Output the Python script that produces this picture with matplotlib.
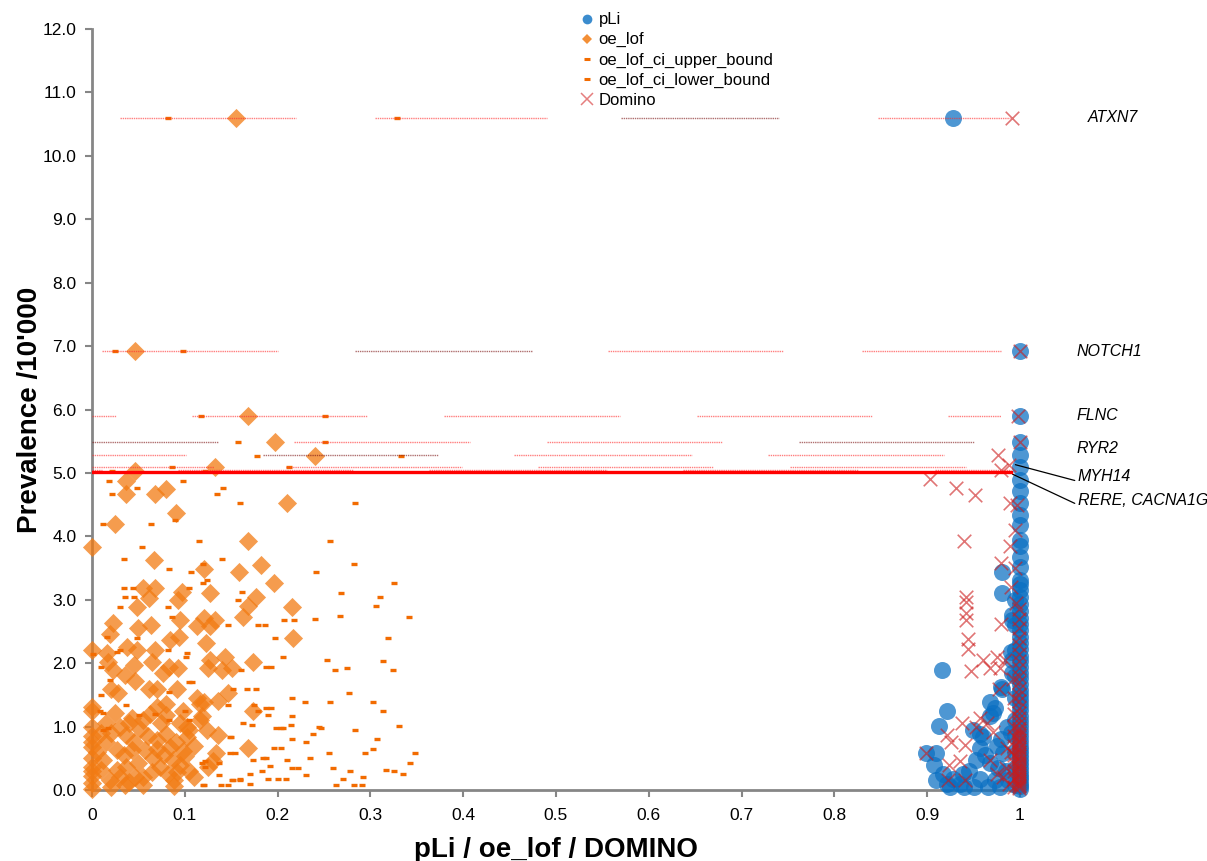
import numpy as np
import matplotlib.pyplot as plt
from matplotlib.lines import Line2D

plt.rcParams['font.family'] = ['Liberation Sans', 'DejaVu Sans']

# oe_lof (diamonds), (x, y)
oe_lof = [(0.155, 10.6), (0.046, 6.93), (0.168, 5.9), (0.197, 5.49), (0.24, 5.27), (0.133, 5.09),
          (0.046, 5.03), (0.037, 4.87), (0.037, 4.66), (0.068, 4.66), (0.08, 4.75), (0.21, 4.52),
          (0.09, 4.37), (0.025, 4.2), (0.0, 3.83), (0.168, 3.93), (0.067, 3.63), (0.121, 3.49),
          (0.182, 3.55), (0.158, 3.43), (0.196, 3.26), (0.055, 3.19), (0.068, 3.18), (0.061, 3.03),
          (0.097, 3.12), (0.093, 2.99), (0.127, 3.11), (0.177, 3.04), (0.168, 2.9), (0.216, 2.89),
          (0.048, 2.89), (0.163, 2.73), (0.023, 2.63), (0.019, 2.46), (0.05, 2.55), (0.064, 2.6),
          (0.095, 2.68), (0.113, 2.59), (0.121, 2.71), (0.133, 2.68), (0.127, 2.58), (0.217, 2.39),
          (0.084, 2.37), (0.094, 2.41), (0.123, 2.32), (0.0, 2.2), (0.016, 2.16), (0.017, 2.02),
          (0.038, 2.25), (0.049, 2.2), (0.068, 2.2), (0.065, 2.02), (0.023, 1.89), (0.045, 1.97),
          (0.036, 1.82), (0.046, 1.72), (0.076, 1.84), (0.083, 1.94), (0.093, 1.92), (0.127, 2.05),
          (0.143, 2.1), (0.125, 1.92), (0.14, 1.89), (0.151, 1.92), (0.173, 2.02), (0.021, 1.6),
          (0.028, 1.53), (0.061, 1.6), (0.07, 1.59), (0.092, 1.59), (0.147, 1.53), (0.113, 1.45),
          (0.121, 1.39), (0.0, 1.25), (0.0, 1.31), (0.025, 1.21), (0.07, 1.31), (0.098, 1.24),
          (0.173, 1.24), (0.118, 1.16), (0.136, 0.87), (0.134, 0.58), (0.168, 0.66), (0.125, 0.37),
          (0.13, 0.45), (0.0, 1.0), (0.0, 0.68), (0.0, 0.37), (0.0, 0.11), (0.0, 0.85), (0.0, 0.5),
          (0.0, 0.22), (0.043, 1.13), (0.08, 1.18), (0.116, 1.35), (0.136, 1.4), (0.124, 0.95),
          (0.102, 0.99), (0.037, 0.87), (0.052, 0.96), (0.027, 0.63), (0.043, 0.63), (0.07, 0.79),
          (0.084, 0.68), (0.1, 0.53), (0.066, 0.5), (0.037, 0.37), (0.055, 0.21), (0.088, 0.16),
          (0.019, 0.16), (0.036, 0.08), (0.055, 0.08), (0.088, 0.06), (0.073, 0.37), (0.116, 1.1),
          (0.102, 0.84), (0.08, 0.89), (0.012, 0.47), (0.01, 0.9), (0.03, 1.0), (0.055, 1.1),
          (0.074, 1.05), (0.08, 1.36), (0.027, 0.32), (0.057, 0.63), (0.087, 0.47), (0.046, 0.21),
          (0.015, 0.75), (0.065, 0.28), (0.092, 0.28), (0.11, 0.7), (0.06, 0.85), (0.02, 0.05),
          (0.005, 0.6), (0.11, 0.2), (0.09, 0.75), (0.0, 0.02), (0.0, 0.3), (0.0, 0.75),
          (0.035, 0.55), (0.05, 0.42), (0.078, 0.55), (0.095, 0.4), (0.105, 0.95), (0.045, 0.75),
          (0.02, 0.9), (0.062, 1.2), (0.095, 1.05), (0.03, 0.2), (0.015, 1.05), (0.04, 1.05),
          (0.07, 0.65), (0.098, 0.62), (0.082, 0.25), (0.04, 0.12), (0.01, 0.32), (0.105, 0.3)]

# oe_lof_ci_lower_bound (dashes)
ci_lower = [(0.082, 10.6), (0.025, 6.93), (0.117, 5.89), (0.157, 5.49), (0.178, 5.27), (0.086, 5.09),
            (0.0215, 5.03), (0.018, 4.87), (0.022, 4.66), (0.048, 4.76), (0.012, 4.2), (0.054, 3.83),
            (0.035, 3.64), (0.083, 3.49), (0.107, 3.44), (0.034, 3.18), (0.044, 3.18), (0.03, 2.89),
            (0.082, 2.89), (0.086, 2.73), (0.036, 3.04), (0.045, 3.04), (0.016, 2.42), (0.027, 2.18),
            (0.03, 2.2), (0.048, 2.39), (0.082, 2.2), (0.01, 1.94), (0.019, 1.73), (0.01, 1.5),
            (0.012, 1.22), (0.012, 0.95), (0.001, 2.14), (0.083, 1.54), (0.009, 1.24), (0.017, 0.97),
            (0.037, 1.34), (0.051, 1.18), (0.068, 1.2), (0.083, 1.1), (0.1, 1.25), (0.105, 1.1),
            (0.118, 0.42), (0.122, 0.36), (0.121, 0.08), (0.137, 0.42), (0.139, 0.08), (0.149, 0.84),
            (0.149, 0.59), (0.104, 1.71), (0.108, 1.71), (0.101, 2.1), (0.102, 2.16), (0.12, 3.27),
            (0.124, 3.31), (0.115, 3.93), (0.064, 4.2), (0.089, 4.26), (0.098, 4.88), (0.141, 4.76),
            (0.135, 4.67), (0.12, 3.56), (0.104, 3.18), (0.122, 0.45), (0.12, 0.08), (0.137, 0.24),
            (0.14, 3.64)]

# oe_lof_ci_upper_bound (dashes)
ci_upper = [(0.329, 10.6), (0.098, 6.93), (0.251, 5.89), (0.251, 5.49), (0.333, 5.27), (0.212, 5.09),
            (0.122, 5.03), (0.16, 4.53), (0.283, 4.53), (0.257, 3.93), (0.282, 3.56), (0.241, 3.43),
            (0.325, 3.26), (0.162, 3.12), (0.268, 3.11), (0.31, 3.04), (0.157, 2.99), (0.306, 2.9),
            (0.267, 2.75), (0.342, 2.73), (0.207, 2.68), (0.218, 2.68), (0.24, 2.7), (0.179, 2.6),
            (0.186, 2.6), (0.147, 2.6), (0.319, 2.39), (0.206, 2.1), (0.197, 2.39), (0.253, 2.05),
            (0.262, 1.9), (0.275, 1.92), (0.314, 2.04), (0.324, 1.89), (0.277, 1.53), (0.303, 1.38),
            (0.314, 1.24), (0.331, 1.01), (0.283, 0.95), (0.307, 0.8), (0.348, 0.58), (0.343, 0.42),
            (0.335, 0.25), (0.325, 0.3), (0.317, 0.32), (0.294, 0.58), (0.303, 0.64), (0.26, 0.34),
            (0.278, 0.3), (0.271, 0.17), (0.282, 0.08), (0.291, 0.08), (0.263, 0.08), (0.292, 0.2),
            (0.255, 0.58), (0.245, 1.0), (0.247, 0.98), (0.238, 0.89), (0.231, 0.76), (0.235, 0.5),
            (0.222, 0.34), (0.231, 0.24), (0.215, 0.34), (0.21, 0.47), (0.204, 0.66), (0.215, 0.81),
            (0.206, 0.98), (0.198, 0.97), (0.196, 0.66), (0.188, 0.5), (0.184, 0.5), (0.192, 0.38),
            (0.183, 0.3), (0.2, 0.18), (0.209, 0.18), (0.19, 0.18), (0.17, 0.25), (0.17, 0.1),
            (0.16, 0.17), (0.151, 0.15), (0.147, 0.08), (0.174, 0.47), (0.172, 1.03), (0.163, 1.05),
            (0.15, 0.83), (0.154, 0.58), (0.187, 1.3), (0.193, 1.3), (0.19, 1.18), (0.179, 1.24),
            (0.229, 1.39), (0.256, 1.38), (0.215, 1.17), (0.214, 1.03), (0.204, 0.98), (0.177, 1.59),
            (0.167, 1.6), (0.161, 1.9), (0.193, 1.94), (0.187, 1.94), (0.216, 1.45), (0.152, 1.59),
            (0.147, 1.34), (0.175, 1.34), (0.152, 0.16), (0.159, 0.16)]

# pLi (circles): scattered genes, plus the stack of genes sitting at pLi = 1
pli = [(0.928, 10.6), (0.916, 1.89), (0.981, 3.11), (0.981, 3.43), (0.921, 1.24), (0.913, 1.01),
       (0.899, 0.59), (0.909, 0.59), (0.907, 0.39), (0.909, 0.16), (0.921, 0.1), (0.935, 0.1),
       (0.949, 0.95), (0.968, 1.39), (0.981, 1.6), (0.968, 1.16), (0.973, 1.29), (0.957, 0.66),
       (0.953, 0.47), (0.939, 0.26), (0.968, 0.42), (0.973, 0.16), (0.982, 0.58), (0.986, 1.0),
       (0.991, 2.68), (0.957, 0.17), (0.928, 0.18), (0.917, 0.26), (0.96, 0.84), (0.98, 0.8),
       (0.991, 2.76), (0.99, 2.18), (0.991, 2.05), (0.991, 1.84), (0.98, 1.63), (0.971, 1.21),
       (0.957, 0.89), (0.95, 0.05), (0.965, 0.05), (0.985, 0.3), (0.99, 0.9), (0.945, 0.3),
       (0.995, 0.08), (0.995, 0.35), (0.995, 0.6), (0.995, 0.85), (0.995, 1.1), (0.995, 1.45),
       (0.995, 1.8), (0.995, 2.2), (0.995, 2.6), (0.995, 3.0), (0.94, 0.04), (0.925, 0.05),
       (0.978, 0.05), (0.987, 0.15), (0.976, 0.35), (0.962, 0.55), (0.975, 0.7)]
pli_one_y = [0.02, 0.06, 0.1, 0.15, 0.21, 0.26, 0.32, 0.38, 0.44, 0.5, 0.57, 0.63, 0.7, 0.78,
             0.85, 0.93, 1.01, 1.09, 1.17, 1.26, 1.34, 1.42, 1.5, 1.58, 1.67, 1.76, 1.85, 1.94,
             2.03, 2.12, 2.22, 2.32, 2.42, 2.52, 2.62, 2.72, 2.82, 2.93, 3.04, 3.15, 3.25, 3.31,
             3.52, 3.68, 3.84, 3.94, 4.18, 4.34, 4.52, 4.71, 4.89, 5.1, 5.28, 5.49, 5.9, 6.93]

# Domino (crosses)
domino = [(0.991, 10.6), (1.0, 6.93), (0.998, 5.9), (1.0, 5.49), (0.976, 5.28), (0.98, 5.04),
          (0.903, 4.9), (0.931, 4.76), (0.952, 4.65), (0.988, 5.13), (0.989, 4.52), (0.94, 3.92),
          (0.989, 3.84), (0.979, 3.58), (0.942, 3.05), (0.942, 2.96), (0.942, 2.79), (0.942, 2.68),
          (0.979, 2.62), (0.944, 2.38), (0.944, 2.23), (0.96, 2.05), (0.975, 2.1), (0.947, 1.87),
          (0.968, 1.92), (0.978, 1.92), (0.984, 2.05), (0.977, 1.6), (0.937, 1.05), (0.921, 0.87),
          (0.926, 0.76), (0.899, 0.59), (0.941, 0.71), (0.953, 1.0), (0.964, 1.05), (0.957, 1.13),
          (0.935, 0.45), (0.924, 0.39), (0.922, 0.16), (0.941, 0.16), (0.968, 0.47), (0.971, 0.92),
          (0.975, 0.26), (0.986, 0.66), (0.99, 3.2), (0.995, 4.1), (0.988, 0.1), (0.985, 0.35),
          (0.99, 0.6), (0.982, 0.2), (0.995, 3.5), (0.997, 4.5), (0.996, 2.95), (0.992, 1.75),
          (0.993, 0.05), (0.993, 0.17), (0.993, 0.3), (0.993, 0.42), (0.993, 0.55), (0.993, 0.7),
          (0.993, 0.85), (0.993, 1.0), (0.993, 1.2), (0.993, 1.45)]
domino_col_y = [0.03, 0.06, 0.08, 0.11, 0.14, 0.17, 0.2, 0.24, 0.27, 0.3, 0.33, 0.37, 0.4, 0.43,
                0.46, 0.5, 0.53, 0.57, 0.6, 0.64, 0.68, 0.72, 0.75, 0.79, 0.83, 0.87, 0.9, 0.94,
                0.98, 1.06, 1.14, 1.22, 1.3, 1.4, 1.5, 1.6, 1.7, 1.8, 1.92, 2.03, 2.15, 2.28,
                2.4, 2.55, 2.7, 2.85]

# dotted connecting segments: (y, x start, x end, dark?)
segments = [
    (10.6, 0.03, 0.22, False), (10.6, 0.305, 0.49, False), (10.6, 0.57, 0.74, True), (10.6, 0.847, 0.989, False),
    (6.93, 0.011, 0.2, False), (6.93, 0.283, 0.474, True), (6.93, 0.556, 0.745, False), (6.93, 0.83, 0.98, False),
    (5.9, 0.0, 0.026, False), (5.9, 0.108, 0.296, False), (5.9, 0.379, 0.569, False), (5.9, 0.652, 0.84, False),
    (5.9, 0.922, 0.98, False),
    (5.49, 0.0, 0.136, True), (5.49, 0.218, 0.407, False), (5.49, 0.49, 0.679, False), (5.49, 0.762, 0.95, True),
    (5.28, 0.0, 0.101, False), (5.28, 0.184, 0.373, True), (5.28, 0.455, 0.647, False), (5.28, 0.728, 0.918, False),
    (5.1, 0.0, 0.132, False), (5.1, 0.209, 0.399, False), (5.1, 0.481, 0.669, False), (5.1, 0.752, 0.942, False),
    (5.05, 0.0, 0.011, False), (5.05, 0.093, 0.281, False), (5.05, 0.363, 0.555, False), (5.05, 0.637, 0.825, False),
    (5.05, 0.908, 0.99, False),
]
threshold_y = 5.02

# gene labels: (text, label x, label y, point it refers to or None)
genes = [("ATXN7", 1.073, 10.6, None), ("NOTCH1", 1.061, 6.92, None), ("FLNC", 1.061, 5.9, None),
         ("RYR2", 1.061, 5.39, None), ("MYH14", 1.062, 4.94, (0.995, 5.13)),
         ("RERE, CACNA1G", 1.062, 4.57, (0.992, 4.98))]

fig = plt.figure(figsize=(12.07, 8.61), dpi=100)
ax = fig.add_axes([92 / 1207, 71 / 861, 928 / 1207, 761 / 861])

blue = '#0a6fc2'
orange = '#f27b13'
red = '#d42a2a'


def xy(points):
    a = np.array(points, dtype=float)
    return a[:, 0], a[:, 1]


px, py = xy(pli)
px = np.concatenate([px, np.ones(len(pli_one_y))])
py = np.concatenate([py, pli_one_y])
ax.scatter(px, py, s=150, marker='o', color=blue, alpha=0.72,
           linewidths=0, clip_on=False, zorder=3)

ox, oy = xy(oe_lof)
ax.scatter(ox, oy, s=95, marker='D', color=orange, alpha=0.75,
           linewidths=0, clip_on=False, zorder=3)
for pts in [ci_upper, ci_lower]:
    cx, cy = xy(pts)
    ax.scatter(cx, cy, s=20, marker='_', color='#f26b00',
               linewidths=2.4, clip_on=False, zorder=4)

dx, dy = xy(domino)
dx = np.concatenate([dx, np.full(len(domino_col_y), 0.999)])
dy = np.concatenate([dy, domino_col_y])
ax.scatter(dx, dy, s=95, marker='x', color='#cc1a1a', alpha=0.6,
           linewidths=1.2, clip_on=False, zorder=5)

for y, x0, x1, dark in segments:
    ax.plot([x0, x1], [y, y], ls=(0, (1, 0.6)), lw=1.0,
            color='#7a1010' if dark else '#ff2a2a', alpha=0.6, zorder=6)
ax.plot([0, 0.99], [threshold_y, threshold_y], color='#ff0000', lw=2.4, zorder=6)

for name, tx, ty, pt in genes:
    if pt is None:
        ax.text(tx, ty, name, fontsize=11.5, style='italic', va='center',
                ha='left', clip_on=False)
    else:
        ax.annotate(name, xy=pt, xytext=(tx, ty), fontsize=11.5, style='italic',
                    va='center', ha='left', annotation_clip=False,
                    arrowprops=dict(arrowstyle='-', color='black', lw=0.9,
                                    shrinkA=0, shrinkB=0, relpos=(0, 0.2)))

ax.set_xlim(0, 1)
ax.set_ylim(0, 12)
ax.set_xticks(np.arange(0, 1.01, 0.1))
ax.set_xticklabels(['0', '0.1', '0.2', '0.3', '0.4', '0.5', '0.6', '0.7', '0.8', '0.9', '1'])
ax.set_yticks(np.arange(0, 12.1, 1))
ax.set_yticklabels([f'{v:.1f}' for v in range(13)])
for side in ['top', 'right']:
    ax.spines[side].set_visible(False)
for side in ['left', 'bottom']:
    ax.spines[side].set_color('#868686')
    ax.spines[side].set_linewidth(2)
ax.tick_params(colors='#868686', labelcolor='black', labelsize=12.5, width=1.5,
               length=5, direction='out')
ax.tick_params(axis='x', pad=8)
ax.tick_params(axis='y', pad=6)

ax.set_xlabel('pLi / oe_lof / DOMINO', fontsize=20, fontweight='bold', labelpad=10)
ax.set_ylabel("Prevalence /10'000", fontsize=20, fontweight='bold', labelpad=0)

handles = [
    Line2D([], [], ls='none', marker='o', ms=7, color=blue, alpha=0.8, mew=0),
    Line2D([], [], ls='none', marker='D', ms=5.5, color=orange, alpha=0.85, mew=0),
    Line2D([], [], ls='none', marker='_', ms=4, color='#f26b00', mew=2.2),
    Line2D([], [], ls='none', marker='_', ms=4, color='#f26b00', mew=2.2),
    Line2D([], [], ls='none', marker='x', ms=8, color=red, alpha=0.6, mew=1.1),
]
labels = ['pLi', 'oe_lof', 'oe_lof_ci_upper_bound', 'oe_lof_ci_lower_bound', 'Domino']
fig.legend(handles, labels, loc='upper left', bbox_to_anchor=(572 / 1207, 1 - 4 / 861),
           frameon=False, fontsize=12, handlelength=0.8, handletextpad=0.3,
           labelspacing=0.3, borderpad=0)

fig.savefig('out.png', dpi=100)
